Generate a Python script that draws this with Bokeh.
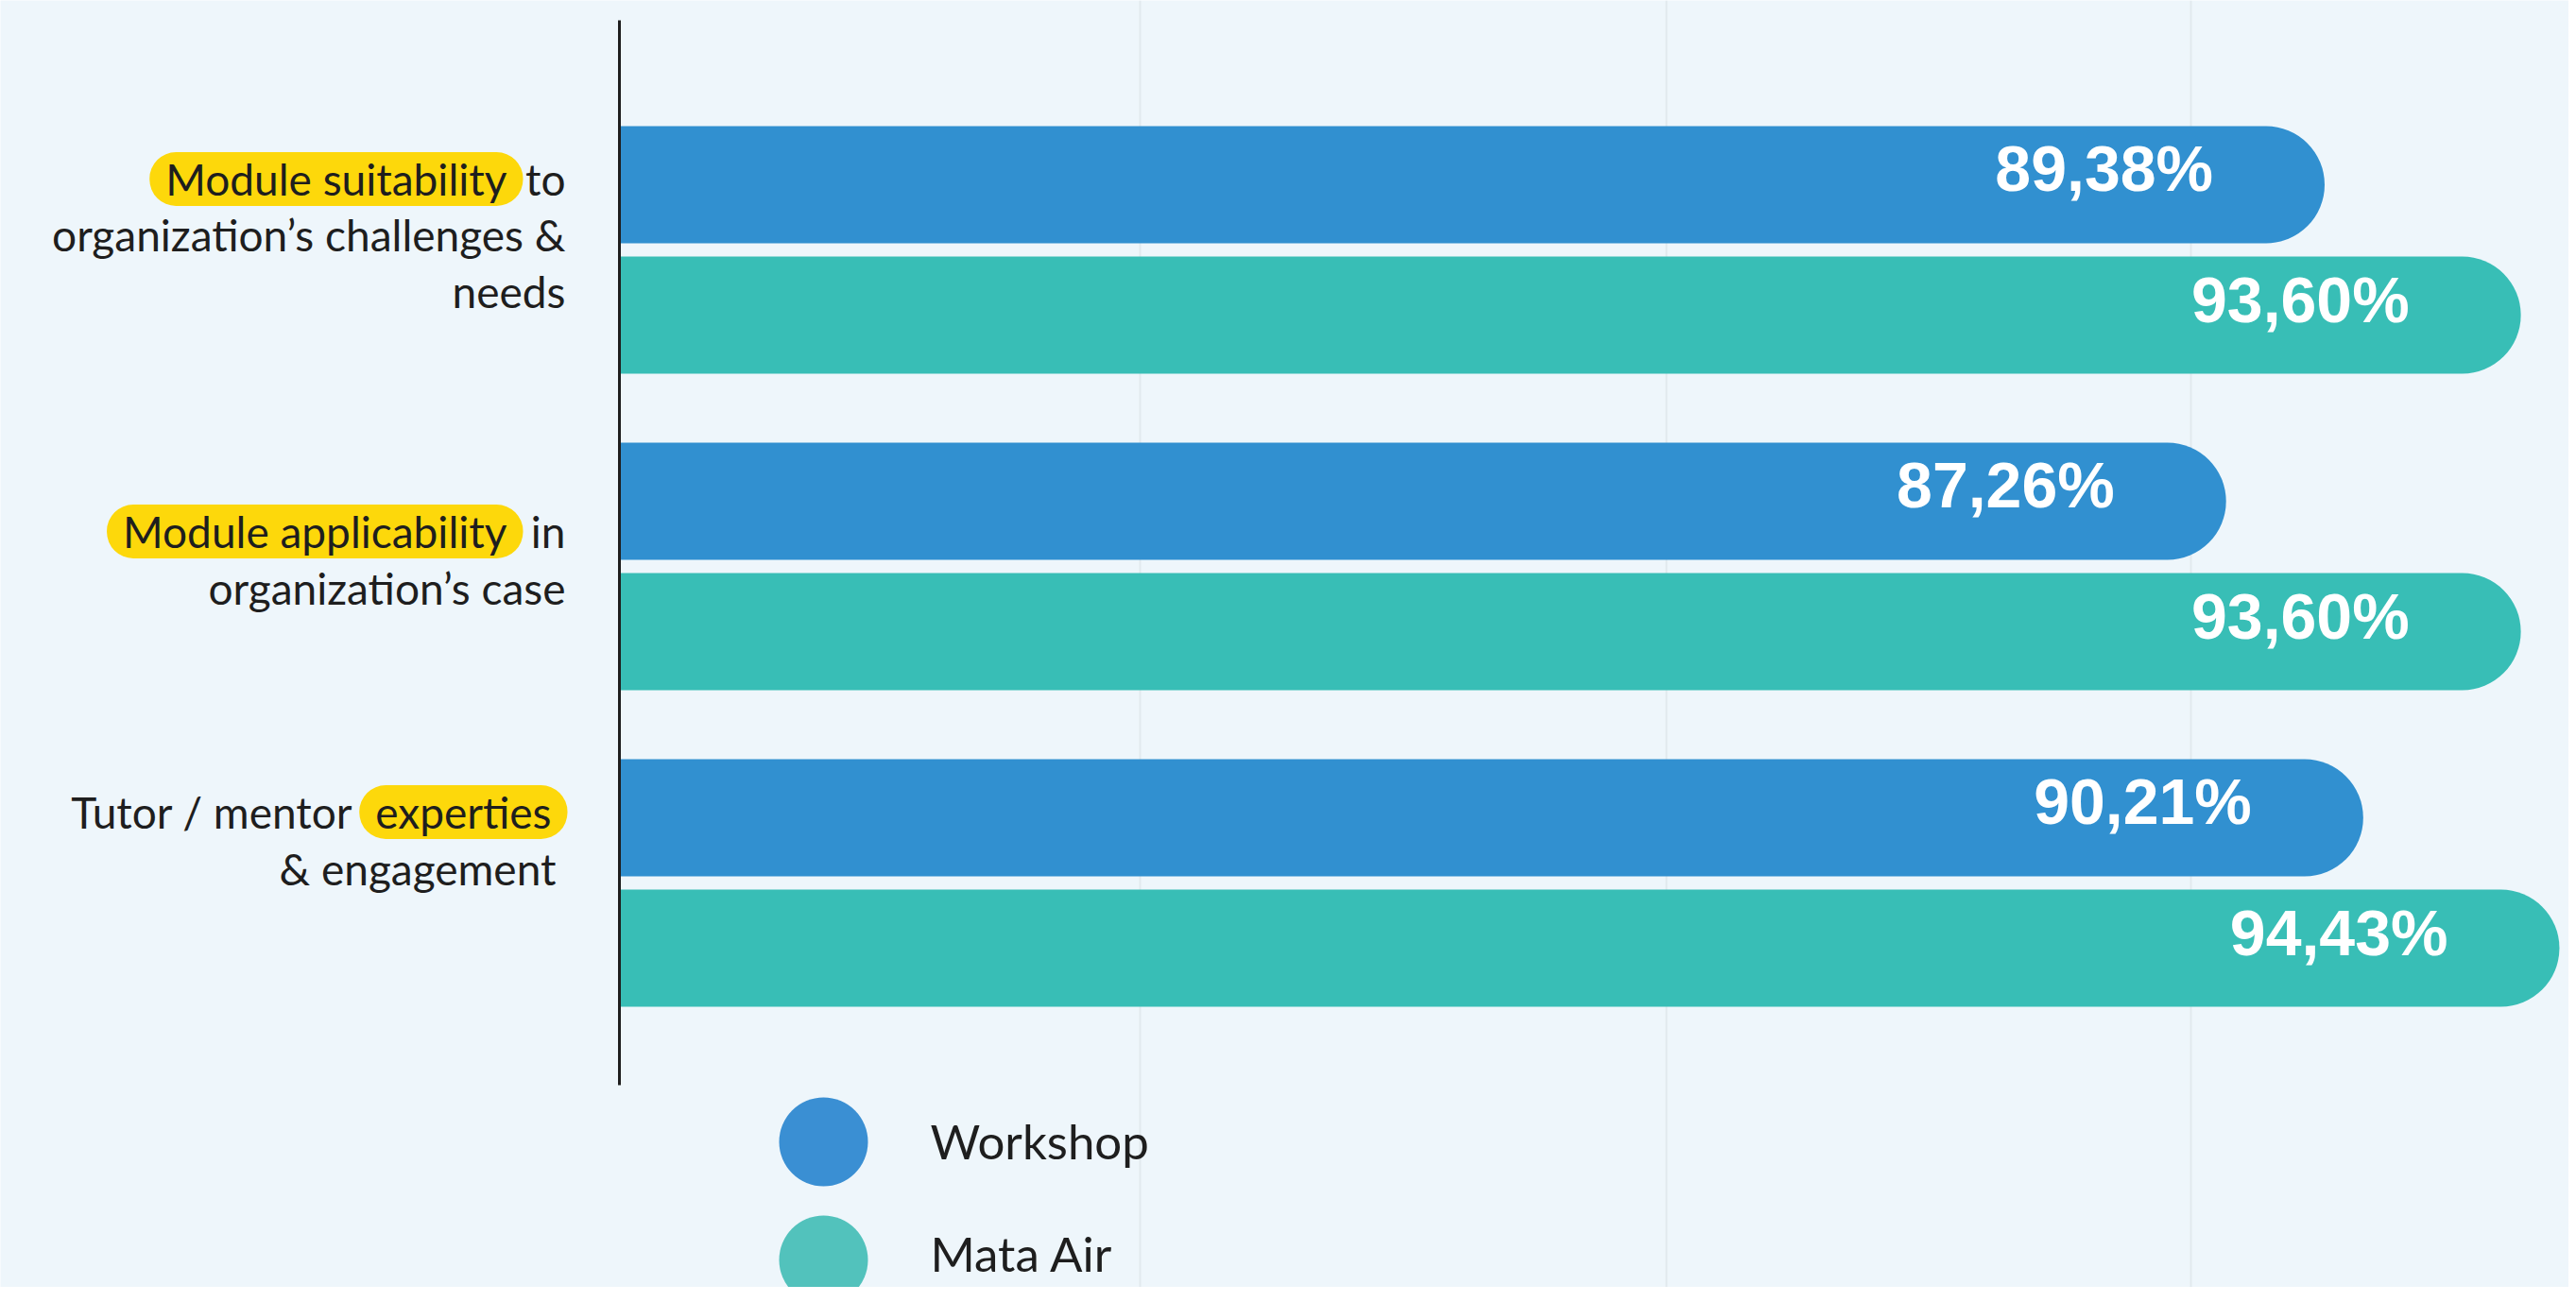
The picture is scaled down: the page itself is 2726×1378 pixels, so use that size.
from bokeh.plotting import figure
from bokeh.models import Range1d, Span, Label, ColumnDataSource
from bokeh.core.properties import value
from bokeh.embed import file_html
from bokeh.resources import INLINE

# ---------------- data ----------------
series = ["Workshop", "Mata Air"]
workshop = [89.38, 87.26, 90.21]
mata_air = [93.60, 93.60, 94.43]

# category labels (first line: plain prefix, highlighted words, plain suffix; then further lines)
cat_prefix = ["", "", "Tutor / mentor"]
cat_highlight = ["Module suitability", "Module applicability", "experties"]
cat_suffix = ["to", "in", ""]
cat_more_lines = [["organization\u2019s challenges &", "needs"],
                  ["organization\u2019s case"],
                  ["& engagement"]]

# ---------------- style / layout ----------------
W, H = 2718, 1362
BG = "#EEF6FB"
BAR_COLORS = ["#3190D0", "#38BEB6"]
LEGEND_COLORS = ["#3A8FD3", "#52C2BC"]
YELLOW = "#FDD80B"
TXT = "#1E1E1E"
LABEL_FONT = "Lato"
VALUE_FONT = "Liberation Sans"

# linear mapping of picture pixels to data values
PX_PER_UNIT = 49.2
ZERO_PX = -1938.0
def X(px):
    return (px - ZERO_PX) / PX_PER_UNIT

G0_PY, G_STEP = 264.0, 335.0
def Y(py):
    return (py - G0_PY) / G_STEP

p = figure(width=W, height=H, output_backend="svg", toolbar_location=None,
           x_axis_location=None, y_axis_location=None,
           x_range=Range1d(X(0), X(W)), y_range=Range1d(Y(H), Y(0)),
           min_border=0, outline_line_color=None,
           background_fill_color=BG, border_fill_color=BG)
p.grid.visible = False

# faint vertical gridlines
for gx in (1206, 1763, 2318):
    p.add_layout(Span(location=X(gx), dimension="height", line_color="#E1E9EE",
                      line_width=2, level="underlay"))

baseline = X(655)
idx = list(range(len(workshop)))
OFF, BH = 0.206, 0.37

for k, (vals, col) in enumerate(zip([workshop, mata_air], BAR_COLORS)):
    ys = [i + (-OFF if k == 0 else OFF) for i in idx]
    src = ColumnDataSource(dict(
        y=ys, right=vals,
        lab=[("%.2f" % v).replace(".", ",") + "%" for v in vals]))
    p.hbar(y="y", left=baseline, right="right", height=BH, source=src,
           fill_color=col, line_color=None, border_radius=(0, 62, 62, 0))
    p.text(x="right", y="y", text="lab", source=src, x_offset=-118, y_offset=-17,
           text_align="right", text_baseline="middle", text_color="white",
           text_font=value(VALUE_FONT), text_font_style="bold",
           text_font_size="68px")

# y axis line
p.segment(x0=[baseline], x1=[baseline], y0=[Y(21)], y1=[Y(1148)],
          line_color="#1E1E1E", line_width=3)

# category labels (y = visual middle of each line)
FS = "46px"
pill_right = [553, 553, 600]
line1_mid = [189, 562, 859]
suffix_right = 598
prefix_right = [None, None, 373]
more_right = [598, 598, 588]
more_mid = [[248, 308], [622], [919]]

for i in idx:
    p.add_layout(Label(x=X(pill_right[i]), y=Y(line1_mid[i]), text=cat_highlight[i],
                       text_align="right", text_baseline="middle",
                       text_font=LABEL_FONT, text_font_size=FS, text_color=TXT,
                       background_fill_color=YELLOW, border_radius=28,
                       padding=dict(x=17, y=1)))
    if cat_suffix[i]:
        p.add_layout(Label(x=X(suffix_right), y=Y(line1_mid[i]), text=cat_suffix[i],
                           text_align="right", text_baseline="middle",
                           text_font=LABEL_FONT, text_font_size=FS, text_color=TXT))
    if cat_prefix[i]:
        p.add_layout(Label(x=X(prefix_right[i]), y=Y(line1_mid[i]), text=cat_prefix[i],
                           text_align="right", text_baseline="middle",
                           text_font=LABEL_FONT, text_font_size=FS, text_color=TXT))
    for line, m in zip(cat_more_lines[i], more_mid[i]):
        p.add_layout(Label(x=X(more_right[i]), y=Y(m), text=line,
                           text_align="right", text_baseline="middle",
                           text_font=LABEL_FONT, text_font_size=FS, text_color=TXT))

# legend
leg_src = ColumnDataSource(dict(x=[X(871)] * 2, y=[Y(1208), Y(1333)],
                                tx=[X(984)] * 2, ty=[Y(1207), Y(1326)],
                                name=series, color=LEGEND_COLORS))
p.scatter(x="x", y="y", size=94, fill_color="color", line_color=None, source=leg_src)
p.text(x="tx", y="ty", text="name", source=leg_src, text_align="left",
       text_baseline="middle", text_font=value(LABEL_FONT), text_font_size="51px",
       text_color=TXT)

open("out.html", "w").write(file_html(p, INLINE))
